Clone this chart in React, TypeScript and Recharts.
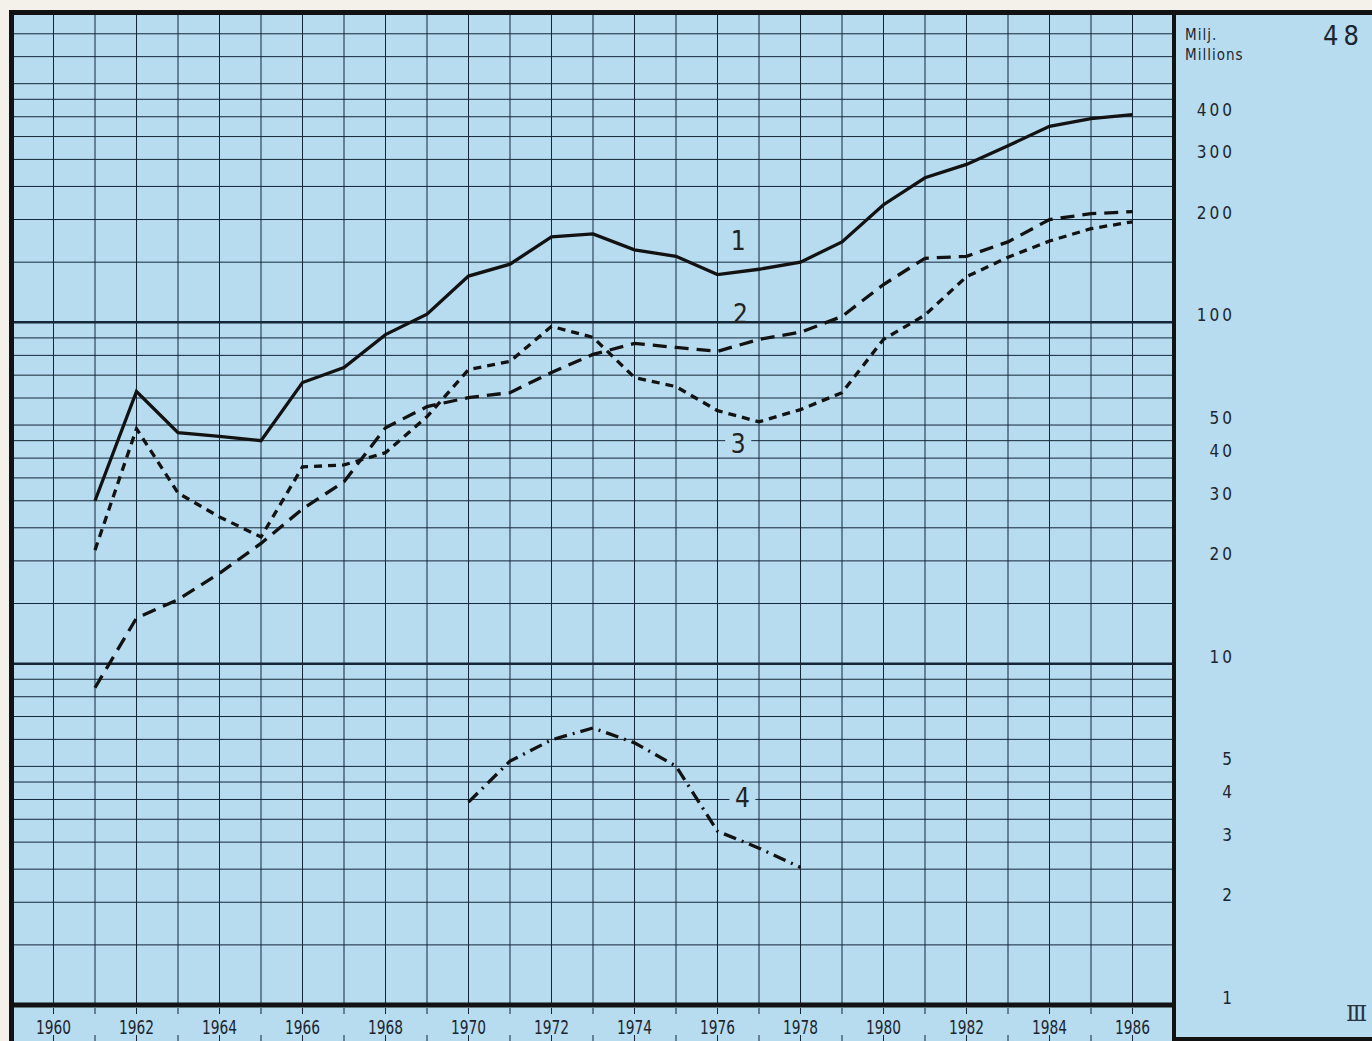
import React from "react";
import {
  CartesianGrid,
  Line,
  LineChart,
  ReferenceDot,
  ReferenceLine,
  XAxis,
  YAxis,
} from "recharts";

// values (millions)
const years = [
  1961, 1962, 1963, 1964, 1965, 1966, 1967, 1968, 1969, 1970, 1971, 1972, 1973,
  1974, 1975, 1976, 1977, 1978, 1979, 1980, 1981, 1982, 1983, 1984, 1985, 1986,
];
const series1 = [
  30, 62.7, 47.5, 46.3, 45, 66.6, 73.7, 92, 105.6, 136.6, 148, 178, 181.5, 163,
  156, 138, 143, 150, 172, 221, 265, 290, 329, 375, 395, 406,
];
const series2 = [
  8.5, 13.6, 15.4, 18.4, 22.5, 28.4, 34.1, 49.1, 56.6, 60.2, 62.2, 71.3, 80.5,
  86.7, 84.4, 82.2, 89.1, 93.5, 104, 129, 154, 156, 172, 200, 208, 211,
];
const series3 = [
  21.5, 48.8, 31.6, 26.9, 23.5, 37.7, 38.2, 41.5, 52.9, 72.7, 76.8, 97.3, 90.3,
  68.9, 64.8, 55.1, 51.1, 55.5, 62.2, 89.1, 105, 136, 155, 173, 188, 197,
];
const series4Years = [1970, 1971, 1972, 1973, 1974, 1975, 1976, 1977, 1978];
const series4 = [3.93, 5.18, 5.98, 6.48, 5.86, 5.01, 3.23, 2.88, 2.53];

const yearTicks = [
  1959, 1960, 1961, 1962, 1963, 1964, 1965, 1966, 1967, 1968, 1969, 1970, 1971,
  1972, 1973, 1974, 1975, 1976, 1977, 1978, 1979, 1980, 1981, 1982, 1983, 1984,
  1985, 1986, 1987,
];
const gridTicks = [
  1, 1.5, 2, 2.5, 3, 3.5, 4, 4.5, 5, 6, 7, 8, 9, 10, 15, 20, 25, 30, 35, 40,
  45, 50, 60, 70, 80, 90, 100, 150, 200, 250, 300, 350, 400, 450, 500, 600, 700,
  800,
];
const labelTicks = [1, 2, 3, 4, 5, 10, 20, 30, 40, 50, 100, 200, 300, 400];

// where the curve numbers sit: [label, year, value, mask grid behind]
const curveLabels: [string, number, number, boolean][] = [
  ["1", 1976.5, 173, false],
  ["2", 1976.55, 106, false],
  ["3", 1976.5, 44, true],
  ["4", 1976.6, 4.04, true],
];

const data = years.map((year, i) => {
  const j = series4Years.indexOf(year);
  return {
    year,
    s1: series1[i],
    s2: series2[i],
    s3: series3[i],
    s4: j >= 0 ? series4[j] : null,
  };
});

const BLUE = "#b7dcf0";
const GRID = "#142638";
const INK = "#121212";
const TEXT = "#1b2530";
const FONT =
  "'DejaVu Sans Condensed', 'Liberation Sans Narrow', 'DejaVu Sans', sans-serif";

function YearTick(props: any) {
  const { x, y, payload } = props;
  const yr = payload.value;
  if (yr < 1960 || yr > 1986) return <g />;
  return (
    <g>
      <line x1={x} x2={x} y1={y + 3} y2={y + 9} stroke={GRID} strokeWidth={1} />
      <line x1={x} x2={x} y1={y + 30} y2={y + 36} stroke={GRID} strokeWidth={1} />
      {yr % 2 === 0 && (
        <text
          x={x}
          y={y + 29}
          textAnchor="middle"
          fontFamily={FONT}
          fontSize={19}
          textLength={35}
          lengthAdjust="spacingAndGlyphs"
          fill={TEXT}
        >
          {yr}
        </text>
      )}
    </g>
  );
}

function ValueTick(props: any) {
  const { x, y, payload } = props;
  return (
    <text
      x={x + 61}
      y={y - 1}
      textAnchor="end"
      fontFamily={FONT}
      fontSize={17}
      letterSpacing={3}
      fill={TEXT}
    >
      {payload.value}
    </text>
  );
}

function CurveLabel(text: string, masked: boolean) {
  return (props: any) => {
    const { cx, cy } = props;
    return (
      <g>
        {masked && (
          <rect x={cx - 13} y={cy - 13} width={26} height={26} fill={BLUE} />
        )}
        <text
          x={cx}
          y={cy + 9}
          textAnchor="middle"
          fontFamily={FONT}
          fontSize={26}
          fill="#222"
        >
          {text}
        </text>
      </g>
    );
  };
}

export default function App() {
  return (
    <div
      style={{
        position: "absolute",
        left: 0,
        top: 0,
        width: 1372,
        height: 1041,
        background: "#f3f1ea",
        overflow: "hidden",
      }}
    >
      <div
        style={{
          position: "absolute",
          left: 11,
          top: 11,
          width: 1361,
          height: 1030,
          background: BLUE,
        }}
      />
      <div style={{ position: "absolute", left: 0, top: 0 }}>
        <LineChart
          width={1372}
          height={1041}
          data={data}
          margin={{ top: 14, right: 0, bottom: 0, left: 12 }}
        >
          <CartesianGrid
            yAxisId="grid"
            stroke={GRID}
            strokeWidth={1}
            strokeDasharray=""
          />
          <XAxis
            dataKey="year"
            type="number"
            domain={[1959, 1987]}
            ticks={yearTicks}
            interval={0}
            height={36}
            axisLine={false}
            tickLine={false}
            tickSize={0}
            tickMargin={0}
            tick={<YearTick />}
          />
          <YAxis
            yAxisId="grid"
            hide
            scale="log"
            type="number"
            domain={[1, 800]}
            allowDataOverflow
            ticks={gridTicks}
            interval={0}
          />
          <YAxis
            yAxisId="labels"
            orientation="right"
            width={198}
            scale="log"
            type="number"
            domain={[1, 800]}
            allowDataOverflow
            ticks={labelTicks}
            interval={0}
            axisLine={false}
            tickLine={false}
            tickSize={0}
            tickMargin={0}
            tick={<ValueTick />}
          />
          <ReferenceLine yAxisId="grid" y={10} stroke={GRID} strokeWidth={2.5} />
          <ReferenceLine yAxisId="grid" y={100} stroke={GRID} strokeWidth={2.5} />
          <ReferenceLine yAxisId="grid" y={1} stroke={INK} strokeWidth={5} />
          {curveLabels.map(([t, x, y, masked]) => (
            <ReferenceDot
              key={t}
              yAxisId="grid"
              x={x}
              y={y}
              r={0}
              shape={CurveLabel(t, masked)}
            />
          ))}
          <Line
            yAxisId="grid"
            dataKey="s1"
            stroke={INK}
            strokeWidth={3.3}
            dot={false}
            isAnimationActive={false}
          />
          <Line
            yAxisId="grid"
            dataKey="s2"
            stroke={INK}
            strokeWidth={3.3}
            strokeDasharray="14 8"
            dot={false}
            isAnimationActive={false}
          />
          <Line
            yAxisId="grid"
            dataKey="s3"
            stroke={INK}
            strokeWidth={3.3}
            strokeDasharray="8 6"
            dot={false}
            isAnimationActive={false}
          />
          <Line
            yAxisId="grid"
            dataKey="s4"
            stroke={INK}
            strokeWidth={3.3}
            strokeDasharray="13 6 2 6"
            dot={false}
            connectNulls={false}
            isAnimationActive={false}
          />
        </LineChart>
      </div>
      {/* frame */}
      <div style={{ position: "absolute", left: 9, top: 10, width: 1363, height: 5, background: INK }} />
      <div style={{ position: "absolute", left: 9, top: 10, width: 5, height: 1031, background: INK }} />
      <div style={{ position: "absolute", left: 1172, top: 10, width: 4, height: 1031, background: INK }} />
      <div style={{ position: "absolute", left: 1172, top: 1037, width: 200, height: 4, background: INK }} />
      {/* panel text */}
      <div
        style={{
          position: "absolute",
          left: 1185,
          top: 25,
          fontFamily: FONT,
          fontSize: 15,
          lineHeight: "20px",
          letterSpacing: 1,
          color: TEXT,
        }}
      >
        Milj.
        <br />
        Millions
      </div>
      <div
        style={{
          position: "absolute",
          right: 8,
          top: 20,
          fontFamily: FONT,
          fontSize: 27,
          fontWeight: 500,
          letterSpacing: 5,
          color: TEXT,
        }}
      >
        48
      </div>
      <div
        style={{
          position: "absolute",
          left: 1346,
          top: 1001,
          fontFamily: "'DejaVu Serif', 'Liberation Serif', serif",
          fontSize: 22,
          color: "#2a3340",
        }}
      >
        Ⅲ
      </div>
    </div>
  );
}
